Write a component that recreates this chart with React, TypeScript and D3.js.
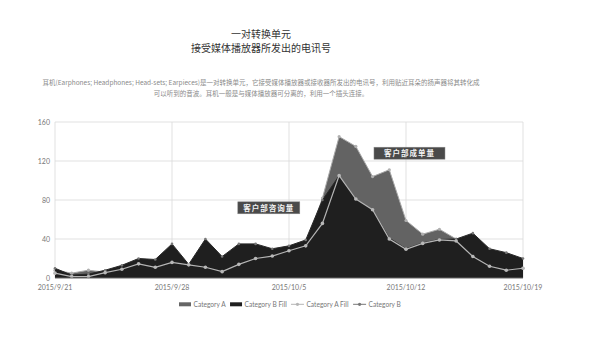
import React from "react";
import * as d3 from "d3";

// one point per day, 2015/9/21 .. 2015/10/19
const startDay = new Date(2015, 8, 21);
const days = d3.range(29).map((i) => d3.timeDay.offset(startDay, i));

// gray area (Category A)
const categoryA = [8, 5, 8, 6, 10, 15, 12, 17, 13, 12, 8, 15, 20, 23, 28, 33, 82, 145, 135, 104, 111, 59, 45, 50, 40, 22, 12, 8, 10];
// black area (Category B Fill)
const categoryBFill = [10, 3, 4, 8, 13, 20, 19, 35, 14, 40, 22, 35, 35, 30, 33, 39, 80, 105, 81, 70, 41, 30, 36, 39.5, 40, 46, 30, 26, 20];
// light line with markers
const categoryALine = [5, 1.5, 1.5, 5.5, 9, 14.5, 11, 16, 13.5, 11, 6.5, 14, 20, 22.5, 28, 33, 56, 105, 81, 70, 40, 29.5, 35.5, 39, 38, 22, 12, 8, 10];

const yTicks = [0, 40, 80, 120, 160];
const xTickDays = [0, 7, 14, 21, 28];

const annotations = [
  { label: "客户部咨询量", day: 12.8, value: 72, w: 62 },
  { label: "客户部成单量", day: 21.2, value: 128, w: 71 },
];

const legendItems = [
  { label: "Category A", kind: "rect", color: "#666666" },
  { label: "Category B Fill", kind: "rect", color: "#1f1f1f" },
  { label: "Category A Fill", kind: "line", color: "#b5b5b5" },
  { label: "Category B", kind: "line", color: "#777777" },
];

const W = 600;
const H = 338;
const margin = { left: 55, right: 77, top: 122, bottom: 60 };

const latin = "Lato, 'Noto Sans', sans-serif";
const cjk = "'Noto Sans CJK SC', sans-serif";
const legendFont = 6.6;

const measure = (() => {
  const ctx = document.createElement("canvas").getContext("2d");
  return (s: string) => {
    if (!ctx) return s.length * 3;
    ctx.font = `${legendFont}px Lato`;
    return ctx.measureText(s).width;
  };
})();

export default function App() {
  const x = d3
    .scaleTime()
    .domain([days[0], days[days.length - 1]])
    .range([margin.left, W - margin.right]);
  const y = d3.scaleLinear().domain([0, 160]).range([H - margin.bottom, margin.top]);

  const area = (vals: number[]) =>
    d3
      .area<number>()
      .x((_, i) => x(days[i]))
      .y0(y(0))
      .y1((d) => y(d))(vals) || "";
  const line = (vals: number[]) =>
    d3
      .line<number>()
      .x((_, i) => x(days[i]))
      .y((d) => y(d))(vals) || "";

  const fmt = (d: Date) => `${d.getFullYear()}/${d.getMonth() + 1}/${d.getDate()}`;
  const dayX = (t: number) => x(d3.timeHour.offset(startDay, Math.round(t * 24)));

  // legend laid out left to right
  let lx = 179;
  const legendPos = legendItems.map((it) => {
    const sx = lx;
    const sw = it.kind === "rect" ? 12 : 13;
    lx += sw + 2.5 + measure(it.label) + 4;
    return { ...it, sx, sw };
  });

  return (
    <svg width={W} height={H} style={{ position: "absolute", left: 0, top: 0, background: "#fff" }}>
      <text x={261} y={37.5} textAnchor="middle" fontFamily={cjk} fontSize={10} fill="#333">
        一对转换单元
      </text>
      <text x={261} y={51.5} textAnchor="middle" fontFamily={cjk} fontSize={10} fill="#333">
        接受媒体播放器所发出的电讯号
      </text>
      <text x={261} y={85} textAnchor="middle" fontFamily={cjk} fontSize={6.5} fill="#8a8a8a">
        耳机(Earphones; Headphones; Head-sets; Earpieces)是一对转换单元，它接受媒体播放器或接收器所发出的电讯号，利用贴近耳朵的扬声器将其转化成
      </text>
      <text x={261} y={96} textAnchor="middle" fontFamily={cjk} fontSize={6.5} fill="#8a8a8a">
        可以听到的音波。耳机一般是与媒体播放器可分离的，利用一个插头连接。
      </text>

      {/* grid */}
      {yTicks.map((t) => (
        <g key={t}>
          {t > 0 && (
            <line x1={margin.left} x2={W - margin.right} y1={y(t)} y2={y(t)} stroke="#d9d9d9" strokeWidth={0.8} />
          )}
          <text x={50} y={y(t) + 2.5} textAnchor="end" fontFamily={latin} fontSize={7} fill="#777">
            {t}
          </text>
        </g>
      ))}
      {xTickDays.map((i) => (
        <g key={i}>
          <line x1={x(days[i])} x2={x(days[i])} y1={y(160)} y2={y(0)} stroke="#d9d9d9" strokeWidth={0.8} />
          <text x={x(days[i])} y={290} textAnchor="middle" fontFamily={latin} fontSize={7} fill="#777">
            {fmt(days[i])}
          </text>
        </g>
      ))}

      {/* gray area + its light outline */}
      <path d={area(categoryA)} fill="#636363" />
      <path d={line(categoryA)} fill="none" stroke="#a8a8a8" strokeWidth={1} />
      {categoryA.map((v, i) => (
        <circle key={"a" + i} cx={x(days[i])} cy={y(v)} r={1.6} fill="#b0b0b0" />
      ))}

      {/* black area */}
      <path d={area(categoryBFill)} fill="#1f1f1f" />
      <path d={line(categoryBFill)} fill="none" stroke="#2a2a2a" strokeWidth={1} />
      {categoryBFill.map((v, i) => (
        <circle key={"b" + i} cx={x(days[i])} cy={y(v)} r={1.3} fill="#777" />
      ))}

      {/* light line */}
      <path d={line(categoryALine)} fill="none" stroke="#b5b5b5" strokeWidth={1.2} />
      {categoryALine.map((v, i) => (
        <circle key={"l" + i} cx={x(days[i])} cy={y(v)} r={1.8} fill="#b8b8b8" />
      ))}

      <line x1={margin.left} x2={W - margin.right} y1={y(0)} y2={y(0)} stroke="#666" strokeWidth={1} />

      {annotations.map((a) => {
        const cx = dayX(a.day);
        const cy = y(a.value);
        return (
          <g key={a.label}>
            <rect x={cx - a.w / 2} y={cy - 6} width={a.w} height={12} fill="#4a4a4a" stroke="#8a8a8a" strokeWidth={0.5} />
            <text
              x={cx}
              y={cy + 2.7}
              textAnchor="middle"
              fontFamily={cjk}
              fontWeight="bold"
              fontSize={7.5}
              letterSpacing={1}
              fill="#f2f2f2"
            >
              {a.label}
            </text>
          </g>
        );
      })}

      {/* legend */}
      {legendPos.map((it) => (
        <g key={it.label}>
          {it.kind === "rect" ? (
            <rect x={it.sx} y={302.3} width={it.sw} height={4} fill={it.color} />
          ) : (
            <g>
              <line x1={it.sx} x2={it.sx + it.sw} y1={304.3} y2={304.3} stroke={it.color} strokeWidth={1} />
              <circle cx={it.sx + it.sw / 2} cy={304.3} r={1.6} fill={it.color} />
            </g>
          )}
          <text x={it.sx + it.sw + 2.5} y={306.7} fontFamily={latin} fontSize={legendFont} fill="#777">
            {it.label}
          </text>
        </g>
      ))}
    </svg>
  );
}
